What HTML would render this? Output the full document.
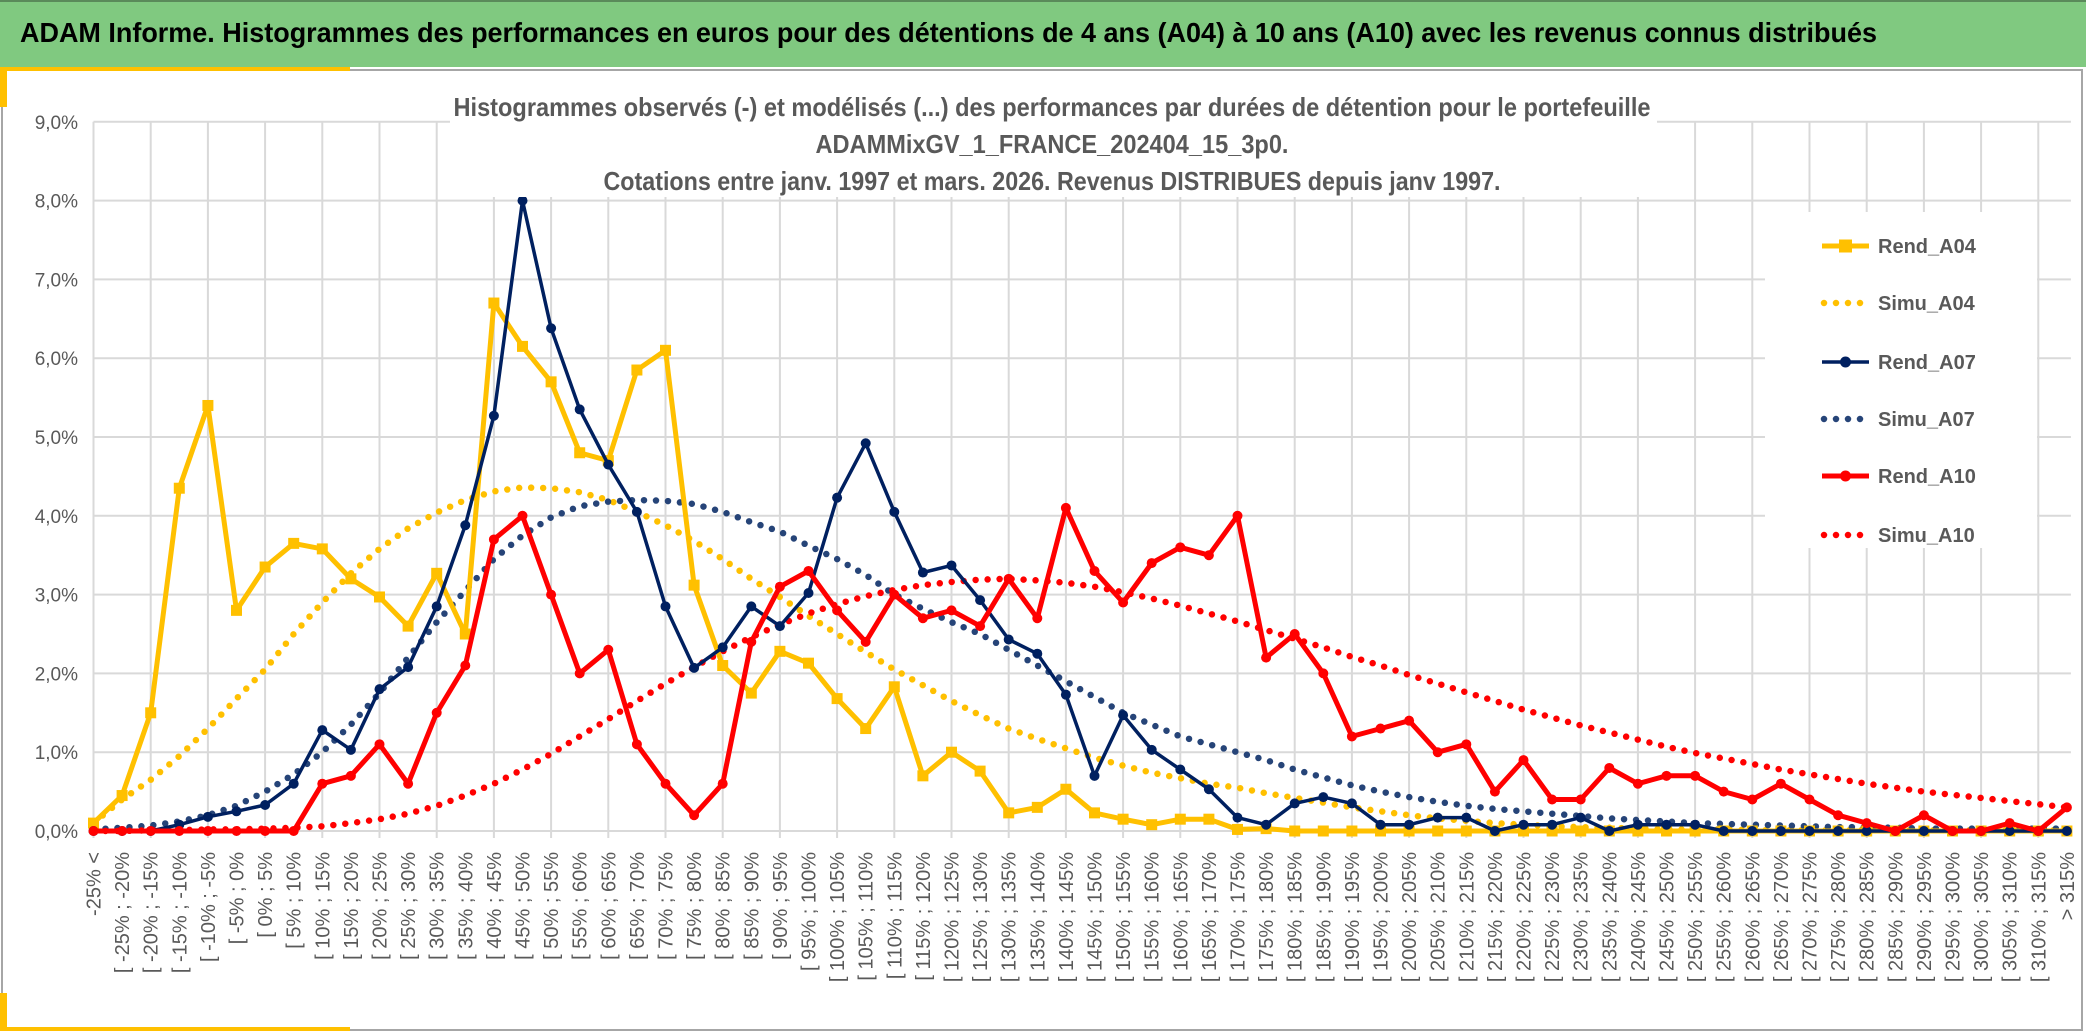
<!DOCTYPE html>
<html><head><meta charset="utf-8"><style>
html,body{margin:0;padding:0;background:#fff;}
svg{display:block;font-family:"Liberation Sans",sans-serif;}
</style></head><body>
<svg id="chart" width="2086" height="1034" viewBox="0 0 2086 1034" xmlns="http://www.w3.org/2000/svg">
<rect x="0" y="0" width="2086" height="67" fill="#80C980"/>
<rect x="0" y="0" width="2086" height="2" fill="#5a8a5a"/>
<text x="20" y="42" font-size="28" font-weight="bold" fill="#000" textLength="1857" lengthAdjust="spacingAndGlyphs">ADAM Informe. Histogrammes des performances en euros pour des détentions de 4 ans (A04) à 10 ans (A10) avec les revenus connus distribués</text>
<rect x="2" y="70" width="2080" height="960" fill="#fff" stroke="#a6a6a6" stroke-width="2"/>
<rect x="0" y="67" width="350" height="4" fill="#FFC000"/>
<rect x="0" y="67" width="7" height="40" fill="#FFC000"/>
<rect x="0" y="993" width="7" height="38" fill="#FFC000"/>
<rect x="0" y="1027" width="350" height="4" fill="#FFC000"/>
<g id="grid"></g>
<g id="yaxis"></g>
<g id="xaxis"></g>
<g id="series"></g>
<rect x="450" y="75" width="1207" height="122" fill="#fff"/>
<g font-size="26" font-weight="bold" fill="#595959" text-anchor="middle">
<text x="1052" y="116" textLength="1197" lengthAdjust="spacingAndGlyphs">Histogrammes observés (-) et modélisés (...) des performances par durées de détention pour le portefeuille</text>
<text x="1052" y="153" textLength="473" lengthAdjust="spacingAndGlyphs">ADAMMixGV_1_FRANCE_202404_15_3p0.</text>
<text x="1052" y="190" textLength="897" lengthAdjust="spacingAndGlyphs">Cotations entre janv. 1997 et mars. 2026. Revenus DISTRIBUES depuis janv 1997.</text>
</g>
<rect x="1765" y="212" width="272" height="336" fill="#fff"/>
<g id="legend"></g>
</svg>
<script>
const catLabels = ["-25% <","[ -25% ; -20%","[ -20% ; -15%","[ -15% ; -10%","[ -10% ; -5%","[ -5% ; 0%","[ 0% ; 5%","[ 5% ; 10%","[ 10% ; 15%","[ 15% ; 20%","[ 20% ; 25%","[ 25% ; 30%","[ 30% ; 35%","[ 35% ; 40%","[ 40% ; 45%","[ 45% ; 50%","[ 50% ; 55%","[ 55% ; 60%","[ 60% ; 65%","[ 65% ; 70%","[ 70% ; 75%","[ 75% ; 80%","[ 80% ; 85%","[ 85% ; 90%","[ 90% ; 95%","[ 95% ; 100%","[ 100% ; 105%","[ 105% ; 110%","[ 110% ; 115%","[ 115% ; 120%","[ 120% ; 125%","[ 125% ; 130%","[ 130% ; 135%","[ 135% ; 140%","[ 140% ; 145%","[ 145% ; 150%","[ 150% ; 155%","[ 155% ; 160%","[ 160% ; 165%","[ 165% ; 170%","[ 170% ; 175%","[ 175% ; 180%","[ 180% ; 185%","[ 185% ; 190%","[ 190% ; 195%","[ 195% ; 200%","[ 200% ; 205%","[ 205% ; 210%","[ 210% ; 215%","[ 215% ; 220%","[ 220% ; 225%","[ 225% ; 230%","[ 230% ; 235%","[ 235% ; 240%","[ 240% ; 245%","[ 245% ; 250%","[ 250% ; 255%","[ 255% ; 260%","[ 260% ; 265%","[ 265% ; 270%","[ 270% ; 275%","[ 275% ; 280%","[ 280% ; 285%","[ 285% ; 290%","[ 290% ; 295%","[ 295% ; 300%","[ 300% ; 305%","[ 305% ; 310%","[ 310% ; 315%","> 315%"];
const yTicks = [0,1,2,3,4,5,6,7,8,9];
const yTickLabels = ["0,0%","1,0%","2,0%","3,0%","4,0%","5,0%","6,0%","7,0%","8,0%","9,0%"];
const rendA04 = [0.1,0.45,1.5,4.35,5.4,2.8,3.35,3.65,3.58,3.2,2.97,2.6,3.27,2.5,6.7,6.15,5.7,4.8,4.7,5.85,6.1,3.12,2.1,1.75,2.28,2.13,1.68,1.3,1.83,0.7,1.0,0.76,0.23,0.3,0.53,0.23,0.15,0.08,0.15,0.15,0.02,0.03,0,0,0,0,0,0,0,0,0,0,0,0,0,0,0,0,0,0,0,0,0,0,0,0,0,0,0,0];
const simuA04 = [0.1,0.4,0.65,0.95,1.3,1.68,2.05,2.5,2.9,3.27,3.58,3.84,4.04,4.2,4.31,4.36,4.35,4.3,4.2,4.05,3.88,3.68,3.45,3.2,2.97,2.73,2.5,2.27,2.05,1.85,1.65,1.47,1.3,1.17,1.05,0.93,0.83,0.74,0.67,0.6,0.55,0.48,0.42,0.36,0.3,0.25,0.2,0.16,0.13,0.1,0.08,0.06,0.05,0.04,0.03,0.02,0.02,0.02,0.01,0.01,0.01,0.01,0.01,0.01,0.01,0.01,0.01,0.01,0.01,0.01];
const rendA07 = [0,0,0,0.08,0.18,0.25,0.33,0.6,1.28,1.03,1.8,2.08,2.85,3.88,5.27,8.0,6.38,5.35,4.65,4.05,2.85,2.07,2.33,2.85,2.6,3.02,4.23,4.92,4.05,3.28,3.37,2.93,2.43,2.25,1.73,0.7,1.47,1.03,0.78,0.53,0.17,0.08,0.35,0.43,0.35,0.08,0.08,0.17,0.17,0,0.08,0.08,0.17,0,0.08,0.08,0.08,0,0,0,0,0,0,0,0,0,0,0,0,0];
const simuA07 = [0.02,0.04,0.07,0.12,0.2,0.32,0.5,0.72,1.0,1.35,1.75,2.2,2.65,3.05,3.45,3.75,3.98,4.12,4.18,4.2,4.19,4.15,4.05,3.92,3.8,3.62,3.45,3.25,3.0,2.82,2.65,2.5,2.3,2.1,1.9,1.7,1.5,1.35,1.2,1.1,1.0,0.9,0.78,0.68,0.58,0.5,0.43,0.37,0.32,0.28,0.25,0.22,0.19,0.16,0.14,0.12,0.1,0.09,0.08,0.07,0.06,0.05,0.05,0.04,0.03,0.03,0.03,0.03,0.03,0.03];
const rendA10 = [0,0,0,0,0,0,0,0,0.6,0.7,1.1,0.6,1.5,2.1,3.7,4.0,3.0,2.0,2.3,1.1,0.6,0.2,0.6,2.4,3.1,3.3,2.8,2.4,3.0,2.7,2.8,2.6,3.2,2.7,4.1,3.3,2.9,3.4,3.6,3.5,4.0,2.2,2.5,2.0,1.2,1.3,1.4,1.0,1.1,0.5,0.9,0.4,0.4,0.8,0.6,0.7,0.7,0.5,0.4,0.6,0.4,0.2,0.1,0,0.2,0,0,0.1,0,0.3];
const simuA10 = [0,0,0.01,0.01,0.02,0.02,0.03,0.04,0.06,0.1,0.15,0.22,0.32,0.45,0.6,0.78,0.98,1.2,1.42,1.65,1.87,2.08,2.28,2.46,2.62,2.76,2.88,2.98,3.06,3.12,3.16,3.19,3.2,3.18,3.15,3.1,3.03,2.95,2.86,2.76,2.66,2.55,2.44,2.33,2.21,2.1,1.98,1.87,1.76,1.65,1.54,1.44,1.34,1.25,1.16,1.07,0.99,0.92,0.85,0.78,0.72,0.66,0.6,0.55,0.5,0.46,0.42,0.38,0.34,0.3];

const NS = "http://www.w3.org/2000/svg";
const X0 = 93.5, DX = 28.6, Y0 = 831, DY = 78.8;
function xs(i){ return X0 + i*DX; }
function ys(v){ return Y0 - v*DY; }
function mk(tag, attrs, parent){ const e = document.createElementNS(NS, tag); for (const k in attrs) e.setAttribute(k, attrs[k]); parent.appendChild(e); return e; }

const grid = document.getElementById('grid');
yTicks.forEach(t => {
  const l = mk('line', {x1: X0, x2: xs(69)+4, y1: ys(t), y2: ys(t), stroke: '#D9D9D9', 'stroke-width': 2}, grid);
  
  
});
for (let i = 0; i < catLabels.length; i += 2) {
  const l = mk('line', {x1: xs(i), x2: xs(i), y1: ys(9), y2: ys(0)+7, stroke: '#D9D9D9', 'stroke-width': 2}, grid);
  
  
}
const yax = document.getElementById('yaxis');
yTicks.forEach((t, i) => {
  const tx = mk('text', {x: 78, y: ys(t)+7, 'font-size': 19, fill: '#595959', 'text-anchor': 'end'}, yax);
  tx.textContent = yTickLabels[i];
  
  
});
const xax = document.getElementById('xaxis');
catLabels.forEach((c, i) => {
  const tx = mk('text', {x: 0, y: 0, 'font-size': 20, fill: '#595959', 'text-anchor': 'end', transform: `translate(${xs(i)+7},852) rotate(-90)`}, xax);
  tx.textContent = c;
  
  
});

const ser = document.getElementById('series');
function pts(arr){ return arr.map((v,i)=> xs(i).toFixed(1)+','+ys(v).toFixed(1)).join(' '); }
function dotted(arr, color, name){
  const p = mk('polyline', {points: pts(arr), fill: 'none', stroke: color, 'stroke-width': 6.5, 'stroke-linecap': 'round', 'stroke-dasharray': '0 12'}, ser);
  
  
}
function solid(arr, color, w, marker, msize, name){
  const g = mk('g', {}, ser);
  
  
  mk('polyline', {points: pts(arr), fill: 'none', stroke: color, 'stroke-width': w, 'stroke-linejoin': 'round'}, g);
  arr.forEach((v,i) => {
    let m;
    if (marker === 'square') m = mk('rect', {x: xs(i)-msize/2, y: ys(v)-msize/2, width: msize, height: msize, fill: color}, g);
    else m = mk('circle', {cx: xs(i), cy: ys(v), r: msize/2, fill: color}, g);
    
    
  });
}
dotted(simuA04, '#FFC000', 'simu-a04-line');
dotted(simuA07, '#264478', 'simu-a07-line');
dotted(simuA10, '#FF0000', 'simu-a10-line');
solid(rendA04, '#FFC000', 5, 'square', 11, 'rend-a04-line');
solid(rendA07, '#002060', 3.5, 'circle', 10, 'rend-a07-line');
solid(rendA10, '#FF0000', 5, 'circle', 10, 'rend-a10-line');

const legNames = ["Rend_A04","Simu_A04","Rend_A07","Simu_A07","Rend_A10","Simu_A10"];
const legColors = ["#FFC000","#FFC000","#002060","#264478","#FF0000","#FF0000"];
const legY = [246,303,362,419,476,535];
const leg = document.getElementById('legend');
legNames.forEach((n, i) => {
  const g = mk('g', {}, leg);
  
  
  const y = legY[i];
  if (i % 2 === 1) {
    mk('line', {x1: 1824, x2: 1868, y1: y, y2: y, stroke: legColors[i], 'stroke-width': 6.5, 'stroke-linecap': 'round', 'stroke-dasharray': '0 12'}, g);
  } else {
    mk('line', {x1: 1822, x2: 1869, y1: y, y2: y, stroke: legColors[i], 'stroke-width': i===2?3.5:5}, g);
    if (i === 0) mk('rect', {x: 1839, y: y-6.5, width: 13, height: 13, fill: legColors[i]}, g);
    else mk('circle', {cx: 1845.5, cy: y, r: 5.5, fill: legColors[i]}, g);
  }
  const t = mk('text', {x: 1878, y: y+7, 'font-size': 20, 'font-weight': 'bold', fill: '#595959'}, g);
  t.textContent = n;
});
</script>
</body></html>
